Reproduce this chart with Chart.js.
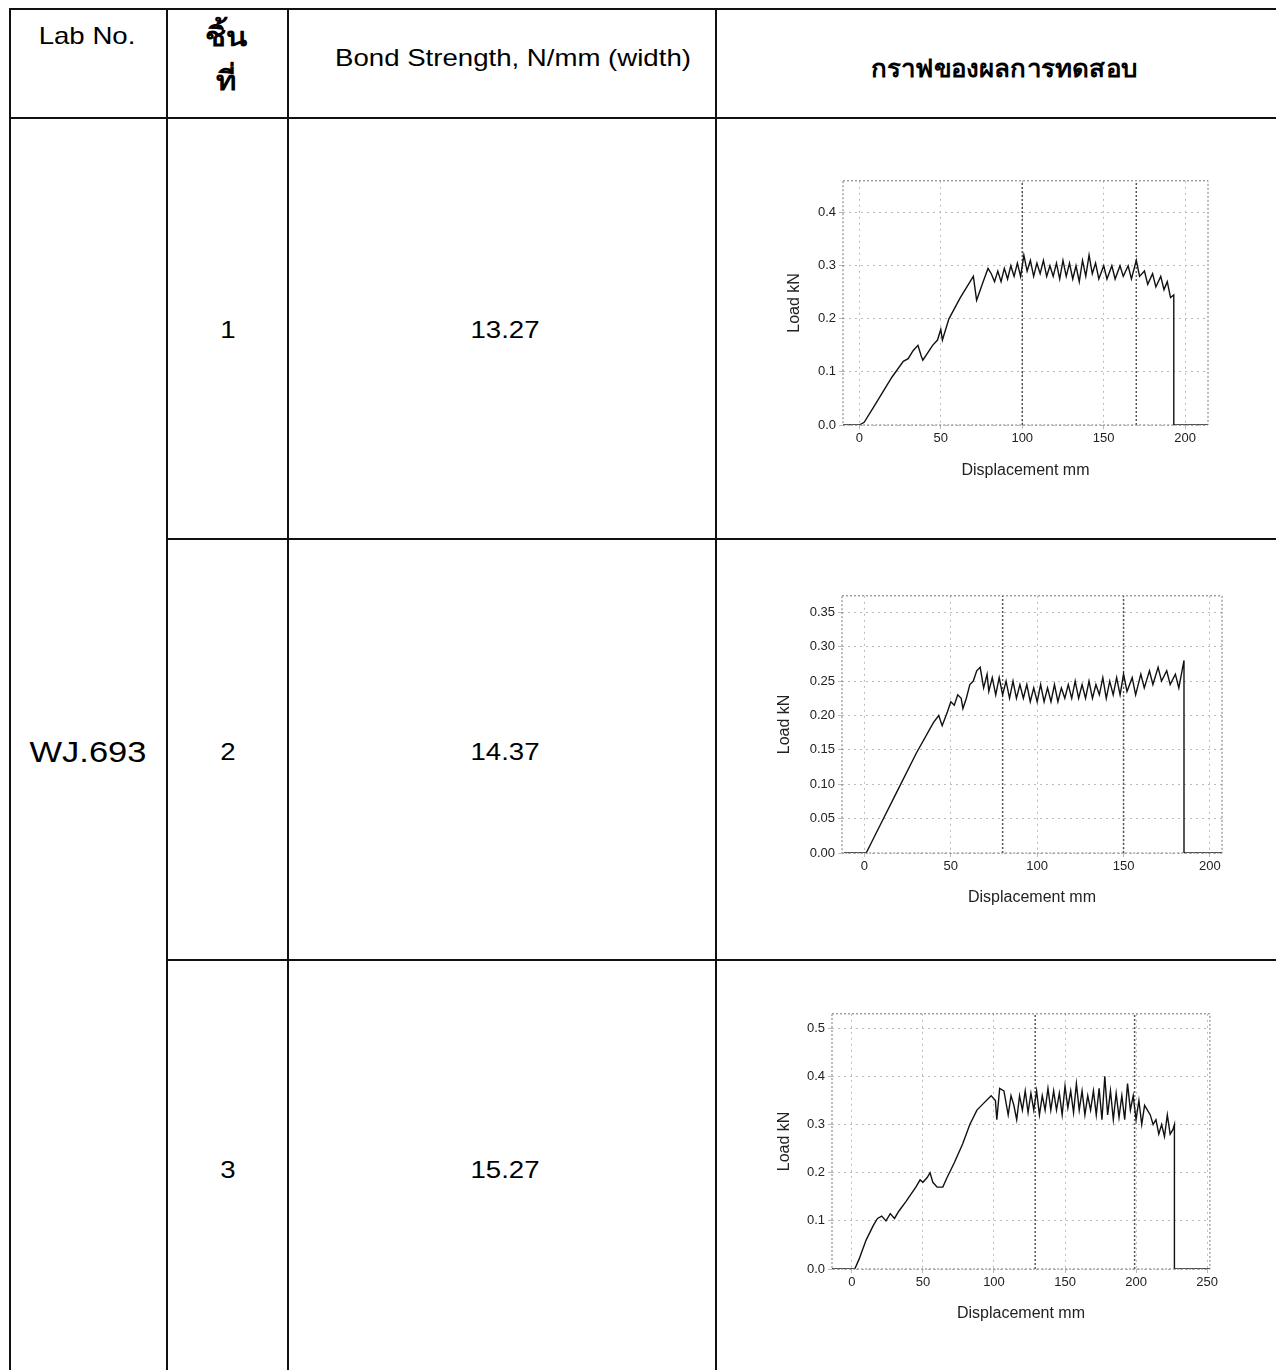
<!DOCTYPE html>
<html>
<head>
<meta charset="utf-8">
<script src="https://cdn.jsdelivr.net/npm/chart.js@4.4.0/dist/chart.umd.min.js"></script>
<style>
  html, body { margin: 0; padding: 0; background: #fff; }
  body { width: 1276px; height: 1370px; position: relative; overflow: hidden;
         font-family: "Liberation Sans", Arial, "Noto Sans", "DejaVu Sans", sans-serif; color: #000; }
  .hl { position: absolute; height: 2px; background: #111; }
  .vl { position: absolute; width: 2px; background: #111; }
  .txt { position: absolute; text-align: center; white-space: nowrap; transform: translate(-50%, -50%) scaleX(1.15); }
  .box { position: absolute; }
</style>
</head>
<body>

<!-- table lines -->
<div class="hl" style="left:9px; top:8px; width:1267px;"></div>
<div class="hl" style="left:9px; top:117px; width:1267px;"></div>
<div class="hl" style="left:167px; top:538px; width:1109px;"></div>
<div class="hl" style="left:167px; top:959px; width:1109px;"></div>
<div class="vl" style="left:9px; top:8px; height:1362px;"></div>
<div class="vl" style="left:166px; top:8px; height:1362px;"></div>
<div class="vl" style="left:287px; top:8px; height:1362px;"></div>
<div class="vl" style="left:715px; top:8px; height:1362px;"></div>

<!-- header -->
<div class="txt" style="left:87px; top:36px; font-size:24px;">Lab No.</div>
<div class="txt" style="left:226px; top:36px; font-size:27px; font-weight:bold;">ชิ้น</div>
<div class="txt" style="left:226px; top:80px; font-size:27px; font-weight:bold;">ที่</div>
<div class="txt" style="left:513px; top:58px; font-size:24px;">Bond Strength, N/mm (width)</div>
<div class="txt" style="left:1004px; top:68px; font-size:24px; font-weight:bold; transform: translate(-50%, -50%) scaleX(1.08);">กราฟของผลการทดสอบ</div>

<!-- body -->
<div class="txt" style="left:88px; top:752px; font-size:30px;">WJ.693</div>
<div class="txt" style="left:228px; top:330px; font-size:24px;">1</div>
<div class="txt" style="left:505px; top:330px; font-size:24px;">13.27</div>
<div class="txt" style="left:228px; top:752px; font-size:24px;">2</div>
<div class="txt" style="left:505px; top:752px; font-size:24px;">14.37</div>
<div class="txt" style="left:228px; top:1170px; font-size:24px;">3</div>
<div class="txt" style="left:505px; top:1170px; font-size:24px;">15.27</div>

<div class="box" style="left:775px; top:170px; width:440px; height:315px;"><canvas id="chart1"></canvas></div>
<div class="box" style="left:770px; top:585px; width:460px; height:325px;"><canvas id="chart2"></canvas></div>
<div class="box" style="left:770px; top:1003px; width:450px; height:330px;"><canvas id="chart3"></canvas></div>

<script>
// specimen 1 : displacement (mm) / load (kN)
const disp1 = [-10, 0, 3, 10, 20, 27, 30, 33, 36, 38, 39, 45, 48, 50, 51, 55, 62, 68, 70, 72, 76, 79, 81, 83, 85, 87, 89, 91, 93, 95, 97, 99, 101, 103, 105, 107, 109, 111, 113, 115, 117, 119, 121, 123, 125, 127, 129, 131, 133, 135, 137, 139, 141, 143, 145, 147, 150, 152, 155, 157, 160, 162, 165, 167, 170, 172, 175, 177, 180, 182, 185, 187, 189, 191, 193, 193, 214];
const load1 = [0, 0, 0.005, 0.04, 0.09, 0.12, 0.125, 0.14, 0.15, 0.13, 0.122, 0.15, 0.16, 0.18, 0.16, 0.2, 0.24, 0.27, 0.28, 0.235, 0.27, 0.295, 0.285, 0.27, 0.29, 0.27, 0.295, 0.275, 0.3, 0.28, 0.305, 0.28, 0.32, 0.29, 0.31, 0.28, 0.305, 0.285, 0.31, 0.28, 0.3, 0.28, 0.305, 0.275, 0.31, 0.28, 0.305, 0.275, 0.3, 0.27, 0.31, 0.28, 0.32, 0.285, 0.305, 0.275, 0.3, 0.275, 0.3, 0.275, 0.3, 0.28, 0.3, 0.275, 0.31, 0.28, 0.29, 0.265, 0.285, 0.26, 0.28, 0.255, 0.27, 0.24, 0.245, 0, 0];
const marks1 = [100, 170];
const xTicks1 = [0, 50, 100, 150, 200];
const yTicks1 = [0, 0.1, 0.2, 0.3, 0.4];

// specimen 2
const disp2 = [-12, 1, 5, 10, 20, 30, 40, 43, 45, 48, 50, 52, 54, 56, 57, 59, 61, 63, 65, 67, 68, 69, 71, 72, 74, 76, 78, 80, 82, 84, 86, 88, 90, 92, 94, 96, 98, 100, 102, 104, 106, 108, 110, 112, 114, 116, 118, 120, 122, 124, 126, 128, 130, 132, 134, 136, 138, 140, 142, 144, 146, 148, 150, 152, 155, 157, 160, 162, 165, 167, 170, 172, 175, 177, 180, 182, 185, 185, 207];
const load2 = [0, 0, 0.02, 0.045, 0.095, 0.145, 0.19, 0.2, 0.185, 0.205, 0.22, 0.215, 0.23, 0.225, 0.21, 0.225, 0.245, 0.25, 0.265, 0.27, 0.255, 0.24, 0.26, 0.235, 0.255, 0.23, 0.255, 0.23, 0.25, 0.225, 0.25, 0.225, 0.245, 0.225, 0.245, 0.22, 0.24, 0.22, 0.245, 0.22, 0.24, 0.22, 0.245, 0.22, 0.24, 0.225, 0.245, 0.225, 0.25, 0.225, 0.245, 0.225, 0.25, 0.225, 0.245, 0.23, 0.255, 0.225, 0.25, 0.23, 0.255, 0.23, 0.26, 0.235, 0.255, 0.23, 0.26, 0.24, 0.265, 0.245, 0.27, 0.25, 0.265, 0.245, 0.26, 0.24, 0.28, 0, 0];
const marks2 = [80, 150];
const xTicks2 = [0, 50, 100, 150, 200];
const yTicks2 = [0, 0.05, 0.10, 0.15, 0.20, 0.25, 0.30, 0.35];

// specimen 3
const disp3 = [-14, 2, 5, 10, 15, 18, 21, 24, 27, 30, 33, 38, 45, 48, 50, 53, 55, 57, 60, 64, 67, 72, 78, 83, 88, 93, 98, 101, 102, 104, 107, 110, 112, 114, 116, 118, 120, 122, 124, 126, 128, 130, 132, 134, 136, 138, 140, 142, 144, 146, 148, 150, 152, 154, 156, 158, 160, 162, 164, 166, 168, 170, 172, 174, 176, 178, 180, 182, 184, 186, 188, 190, 192, 194, 196, 198, 200, 202, 204, 206, 208, 210, 212, 214, 216, 218, 220, 222, 224, 226, 227, 227, 252];
const load3 = [0, 0, 0.02, 0.06, 0.09, 0.105, 0.11, 0.1, 0.115, 0.105, 0.12, 0.14, 0.17, 0.185, 0.18, 0.19, 0.2, 0.18, 0.17, 0.17, 0.19, 0.22, 0.26, 0.3, 0.33, 0.345, 0.36, 0.35, 0.31, 0.375, 0.37, 0.32, 0.36, 0.34, 0.31, 0.36, 0.33, 0.37, 0.325, 0.365, 0.33, 0.37, 0.32, 0.36, 0.33, 0.375, 0.33, 0.37, 0.33, 0.365, 0.32, 0.38, 0.335, 0.37, 0.325, 0.385, 0.33, 0.37, 0.32, 0.36, 0.33, 0.37, 0.32, 0.375, 0.31, 0.4, 0.32, 0.37, 0.31, 0.365, 0.315, 0.36, 0.31, 0.385, 0.33, 0.36, 0.31, 0.35, 0.3, 0.34, 0.33, 0.32, 0.3, 0.31, 0.28, 0.3, 0.275, 0.32, 0.28, 0.29, 0.3, 0, 0];
const marks3 = [129, 199];
const xTicks3 = [0, 50, 100, 150, 200, 250];
const yTicks3 = [0, 0.1, 0.2, 0.3, 0.4, 0.5];

const fam = "'Liberation Sans', Arial, sans-serif";

// dotted frame round the plot area
const frame = {
    id: 'frame',
    afterDraw(chart) {
        const a = chart.chartArea, c = chart.ctx;
        c.save();
        c.strokeStyle = '#777';
        c.lineWidth = 1;
        c.setLineDash([2, 2]);
        c.strokeRect(a.left, a.top, a.right - a.left, a.bottom - a.top);
        c.restore();
    }
};

function makeChart(id, disp, load, marks, xTicks, yTicks, opt) {
    const pts = disp.map((x, i) => ({ x: x, y: load[i] }));
    const sets = [{
        data: pts,
        borderColor: '#111',
        borderWidth: 1.4,
        pointRadius: 0,
        showLine: true,
        tension: 0
    }];
    marks.forEach(m => {
        sets.push({
            data: [{ x: m, y: 0 }, { x: m, y: opt.yMax }],
            borderColor: '#555',
            borderWidth: 1.5,
            borderDash: [2, 2],
            pointRadius: 0,
            showLine: true
        });
    });

    new Chart(document.getElementById(id), {
        type: 'scatter',
        data: { datasets: sets },
        options: {
            responsive: true,
            maintainAspectRatio: false,
            animation: false,
            layout: { padding: { top: opt.top, right: opt.right, left: 0, bottom: 0 } },
            plugins: { legend: { display: false }, tooltip: { enabled: false } },
            scales: {
                x: {
                    type: 'linear',
                    min: opt.xMin, max: opt.xMax,
                    afterBuildTicks: s => { s.ticks = xTicks.map(v => ({ value: v })); },
                    afterFit: s => { s.height = opt.xh; },
                    grid: { color: '#bbb', tickLength: 4, lineWidth: 1 },
                    border: { display: false, dash: [2, 4] },
                    ticks: { color: '#222', font: { family: fam, size: 13 }, padding: 2, callback: v => String(v) },
                    title: { display: true, text: 'Displacement mm', color: '#222', font: { family: fam, size: 16 }, padding: { top: 4, bottom: opt.xtp } }
                },
                y: {
                    type: 'linear',
                    min: 0, max: opt.yMax,
                    afterBuildTicks: s => { s.ticks = yTicks.map(v => ({ value: v })); },
                    afterFit: s => { s.width = opt.yw; },
                    grid: { color: '#bbb', tickLength: 4, lineWidth: 1 },
                    border: { display: false, dash: [2, 4] },
                    ticks: { color: '#222', font: { family: fam, size: 13 }, padding: 3, callback: v => v.toFixed(opt.dec) },
                    title: { display: true, text: 'Load kN', color: '#222', font: { family: fam, size: 16 }, padding: { top: opt.ytp, bottom: 4 } }
                }
            }
        },
        plugins: [frame]
    });
}

makeChart('chart1', disp1, load1, marks1, xTicks1, yTicks1,
    { xMin: -10, xMax: 214, yMax: 0.46, dec: 1, yw: 68, xh: 60, top: 5, right: 7, ytp: 10, xtp: 5 });
makeChart('chart2', disp2, load2, marks2, xTicks2, yTicks2,
    { xMin: -13, xMax: 207, yMax: 0.374, dec: 2, yw: 72, xh: 57, top: 7, right: 8, ytp: 5, xtp: 3 });
makeChart('chart3', disp3, load3, marks3, xTicks3, yTicks3,
    { xMin: -14, xMax: 252, yMax: 0.53, dec: 1, yw: 62, xh: 64, top: 7, right: 8, ytp: 5, xtp: 10 });
</script>
</body>
</html>
